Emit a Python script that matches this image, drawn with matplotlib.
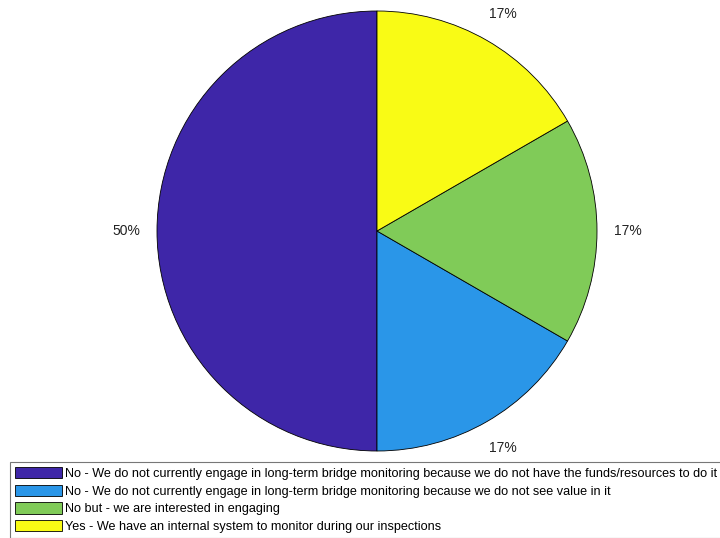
import matplotlib
matplotlib.use("Agg")
import matplotlib.pyplot as plt

plt.rcParams['font.family'] = ['Liberation Sans', 'DejaVu Sans']

# Réponses de l'enquête
labels = [
    "No - We do not currently engage in long-term bridge monitoring because we do not have the funds/resources to do it",
    "No - We do not currently engage in long-term bridge monitoring because we do not see value in it",
    "No but - we are interested in engaging",
    "Yes - We have an internal system to monitor during our inspections",
]
counts = [3, 1, 1, 1]
colors = ["#3E26A8", "#2A96E8", "#80CB58", "#F9FB15"]

fig = plt.figure(figsize=(7.2, 5.38), dpi=100)
W, H = 720, 538
cx, cy, r = 377, 538 - 231, 220
ax = fig.add_axes([(cx - r) / W, (cy - r) / H, 2 * r / W, 2 * r / H])

wedges, _, autotexts = ax.pie(
    counts, colors=colors, startangle=90, counterclock=True,
    autopct=lambda p: f"{p:.0f}%", pctdistance=1.14,
    wedgeprops=dict(edgecolor="black", linewidth=0.6),
    textprops=dict(fontsize=10, color="#222222"),
)
ax.set_xlim(-1, 1)
ax.set_ylim(-1, 1)
ax.set_aspect("equal")

leg = fig.legend(
    wedges, labels, loc="lower left", bbox_to_anchor=(10 / W, 0.0),
    fontsize=9.05, frameon=True, fancybox=False, edgecolor="#555555",
    handlelength=3.7, handleheight=1.0, handletextpad=0.3,
    labelspacing=0.38, borderpad=0.4, borderaxespad=0.0,
)
leg.get_frame().set_linewidth(0.8)

fig.savefig("out.png", dpi=100)
